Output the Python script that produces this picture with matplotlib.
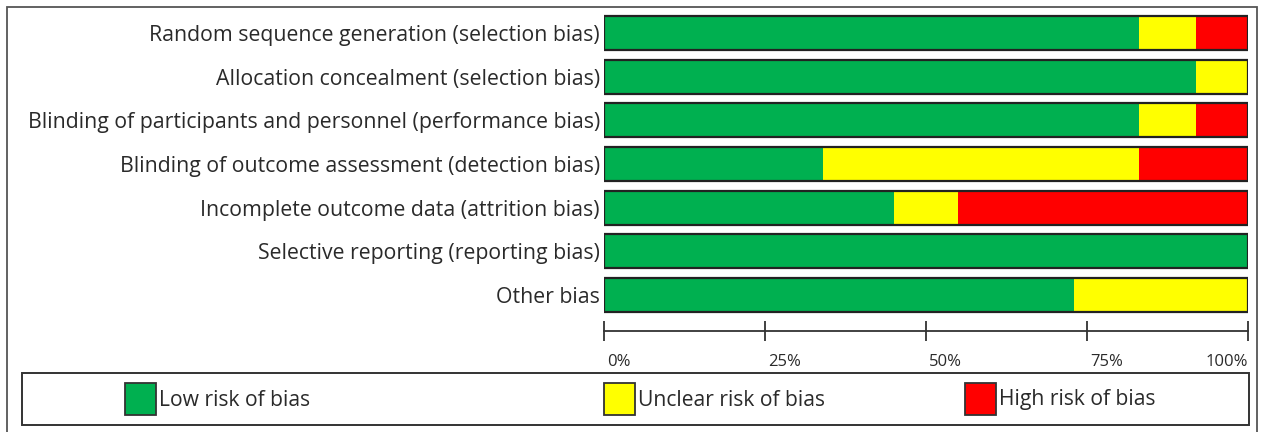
import matplotlib
matplotlib.use("Agg")
import matplotlib.pyplot as plt
from matplotlib.patches import Rectangle
from matplotlib.transforms import ScaledTranslation

categories = [
    "Random sequence generation (selection bias)",
    "Allocation concealment (selection bias)",
    "Blinding of participants and personnel (performance bias)",
    "Blinding of outcome assessment (detection bias)",
    "Incomplete outcome data (attrition bias)",
    "Selective reporting (reporting bias)",
    "Other bias",
]
low = [83, 92, 83, 34, 45, 100, 73]
unclear = [9, 8, 9, 49, 10, 0, 27]
high = [8, 0, 8, 17, 45, 0, 0]
series_names = ["Low risk of bias", "Unclear risk of bias", "High risk of bias"]
colors = ["#00B050", "#FFFF00", "#FF0000"]
tick_vals = [0, 25, 50, 75, 100]
tick_labels = ["0%", "25%", "50%", "75%", "100%"]

W, H = 1264, 432
fig = plt.figure(figsize=(W / 100, H / 100), dpi=100)
FONT = "Open Sans"

def fx(px):
    return px / W

def fy(py):
    return 1 - py / H

# outer frame (bottom edge falls outside the canvas)
fig.patches.append(Rectangle((fx(7), fy(445)), fx(1257) - fx(7), fy(7) - fy(445),
                             transform=fig.transFigure, fill=False,
                             edgecolor="#555555", lw=1.3))

ax_l, ax_r, ax_t, ax_b = 604, 1248, 12, 331
ax = fig.add_axes([fx(ax_l), fy(ax_b), fx(ax_r) - fx(ax_l), fy(ax_t) - fy(ax_b)])
ax.set_facecolor("none")

ys = list(range(len(categories)))
bh = 0.78
left = [0] * len(categories)
for vals, c in zip([low, unclear, high], colors):
    ax.barh(ys, vals, left=left, height=bh, color=c, edgecolor="none")
    left = [a + b for a, b in zip(left, vals)]
for y in ys:
    ax.add_patch(Rectangle((0, y - bh / 2), 100, bh, fill=False,
                           edgecolor="#222222", lw=1.6, zorder=5))

row0, step = 33, 43.67
ax.set_xlim(0, 100)
ax.set_ylim((ax_b - row0) / step, (ax_t - row0) / step)
for s in ["top", "right", "left"]:
    ax.spines[s].set_visible(False)
ax.spines["bottom"].set_linewidth(1.3)
ax.spines["bottom"].set_color("#333333")

ax.set_yticks(ys)
ax.set_yticklabels(categories, fontsize=15.3, family=FONT, color="#2a2a2a")
ax.tick_params(axis="y", length=0, pad=3)

ax.set_xticks(tick_vals)
ax.set_xticklabels(tick_labels, fontsize=12, family=FONT, color="#2a2a2a")
ax.tick_params(axis="x", direction="inout", length=14.5, width=1.3, color="#333333", pad=9)
shift = ScaledTranslation(3 / 100, 0, fig.dpi_scale_trans)
for i, lab in enumerate(ax.get_xticklabels()):
    if i == len(tick_labels) - 1:
        lab.set_horizontalalignment("right")
    else:
        lab.set_horizontalalignment("left")
        lab.set_transform(lab.get_transform() + shift)

# legend box
fig.patches.append(Rectangle((fx(22), fy(425)), fx(1249) - fx(22), fy(373) - fy(425),
                             transform=fig.transFigure, fill=False,
                             edgecolor="#333333", lw=1.4))
sq_x = [125, 604, 965]
for x0, name, c in zip(sq_x, series_names, colors):
    fig.patches.append(Rectangle((fx(x0), fy(415)), fx(31), fy(383) - fy(415),
                                 transform=fig.transFigure, facecolor=c,
                                 edgecolor="#333333", lw=1.3))
    fig.text(fx(x0 + 34), fy(400), name, fontsize=15.2, family=FONT,
             color="#2a2a2a", va="center", ha="left")

fig.savefig("out.png", dpi=100)
